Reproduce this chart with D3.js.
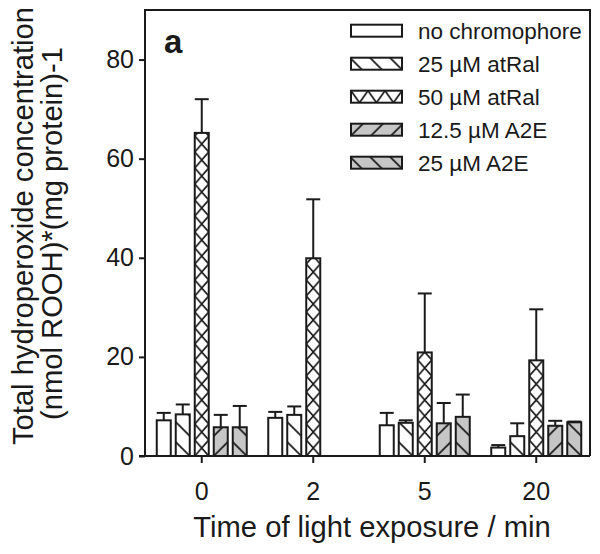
<!DOCTYPE html>
<html>
<head>
<meta charset="utf-8">
<script src="https://cdn.jsdelivr.net/npm/d3@7"></script>
<style>
  body { margin: 0; background: #fff; }
  svg { display: block; }
  text { font-family: "Liberation Sans", Arial, Helvetica, sans-serif; fill: #1a1a1a; }
</style>
</head>
<body>
<svg id="chart" width="600" height="554"></svg>
<script>
// ---- data ----
const categories = ["0", "2", "5", "20"];
const seriesNames = ["no chromophore", "25 \u00B5M atRal", "50 \u00B5M atRal", "12.5 \u00B5M A2E", "25 \u00B5M A2E"];
const noChromophore = [7.2, 7.7, 6.2, 1.7];
const noChromophoreErr = [1.5, 1.2, 2.5, 0.5];
const atRal25 = [8.4, 8.3, 6.7, 4.0];
const atRal25Err = [2.0, 1.7, 0.5, 2.6];
const atRal50 = [65.2, 39.9, 20.9, 19.3];
const atRal50Err = [6.8, 11.9, 11.9, 10.3];
const a2e125 = [5.8, null, 6.6, 6.1];
const a2e125Err = [2.5, null, 4.1, 1.0];
const a2e25 = [5.8, null, 7.9, 6.8];
const a2e25Err = [4.3, null, 4.5, 0.15];
const yTicks = [0, 20, 40, 60, 80];
const xTitle = "Time of light exposure / min";
const yTitle1 = "Total hydroperoxide concentration";
const yTitle2 = "(nmol ROOH)*(mg protein)-1";
const panelLabel = "a";

(function () {
const seriesValues = [noChromophore, atRal25, atRal50, a2e125, a2e25];
const seriesErrors = [noChromophoreErr, atRal25Err, atRal50Err, a2e125Err, a2e25Err];
const seriesStyle = [
  { fill: "#ffffff", hatch: "none" },
  { fill: "#ffffff", hatch: "back" },
  { fill: "#ffffff", hatch: "cross" },
  { fill: "#c6c6c6", hatch: "fwd" },
  { fill: "#c6c6c6", hatch: "back" }
];

const svg = d3.select("#chart");
const pLeft = 145, pRight = 590, pTop = 10, pBottom = 456;
const ink = "#1a1a1a";

const y = d3.scaleLinear().domain([0, 90]).range([pBottom, pTop]);
const x0 = d3.scaleBand().domain(categories).range([146, 592]).padding(0);
const half = x0.bandwidth() / 2;
const x1 = d3.scaleBand().domain(d3.range(seriesNames.length))
  .range([half - 45, half + 45]).paddingInner(0.263).paddingOuter(0);

const defs = svg.append("defs");
let pid = 0;
function makePattern(style, bx, bw, anchorY, crossH) {
  if (style.hatch === "none") return style.fill;
  const id = "pat" + (pid++);
  let w, h, d, px, py;
  if (style.hatch === "back") {
    w = h = 20; px = bx + bw; py = anchorY;
    d = "M0,0L20,20M-5,15L5,25M15,-5L25,5";
  } else if (style.hatch === "fwd") {
    w = h = 20; px = bx; py = anchorY;
    d = "M0,20L20,0M-5,5L5,-5M15,25L25,15";
  } else {
    w = bw; h = crossH || 16; px = bx; py = anchorY;
    d = `M0,0L${w},${h}M0,${h}L${w},0`;
  }
  const p = defs.append("pattern").attr("id", id)
    .attr("patternUnits", "userSpaceOnUse")
    .attr("x", px).attr("y", py).attr("width", w).attr("height", h);
  p.append("rect").attr("width", w).attr("height", h).attr("fill", style.fill);
  p.append("path").attr("d", d).attr("stroke", ink).attr("stroke-width", 1.7).attr("fill", "none");
  return `url(#${id})`;
}

const rows = [];
categories.forEach((c, gi) => {
  seriesNames.forEach((s, si) => {
    const v = seriesValues[si][gi];
    if (v == null) return;
    rows.push({ c, si, v, e: seriesErrors[si][gi] });
  });
});

const gBars = svg.append("g");
rows.forEach(r => {
  const bx = x0(r.c) + x1(r.si);
  const bw = x1.bandwidth();
  const fill = makePattern(seriesStyle[r.si], bx, bw, y(0));
  const cx = bx + bw / 2;
  gBars.append("line").attr("x1", cx).attr("x2", cx)
    .attr("y1", y(r.v)).attr("y2", y(r.v + r.e))
    .attr("stroke", ink).attr("stroke-width", 2);
  gBars.append("line").attr("x1", cx - 7).attr("x2", cx + 7)
    .attr("y1", y(r.v + r.e)).attr("y2", y(r.v + r.e))
    .attr("stroke", ink).attr("stroke-width", 2);
  gBars.append("rect").attr("x", bx).attr("y", y(r.v))
    .attr("width", bw).attr("height", y(0) - y(r.v))
    .attr("fill", fill).attr("stroke", ink).attr("stroke-width", 2);
});

const yAxis = d3.axisLeft(y).tickValues(yTicks).tickSize(6).tickPadding(5).tickFormat(d3.format("d"));
const gy = svg.append("g").attr("transform", `translate(${pLeft},0)`).call(yAxis);
gy.select(".domain").remove();
gy.selectAll(".tick line").attr("stroke", ink).attr("stroke-width", 2);
gy.selectAll(".tick text").attr("font-size", 25).style("fill", ink)
  .attr("font-family", "Liberation Sans, Arial, sans-serif");

const xAxis = d3.axisBottom(x0).tickSize(7).tickPadding(19).tickSizeOuter(0);
const gx = svg.append("g").attr("transform", `translate(0,${pBottom})`).call(xAxis);
gx.select(".domain").remove();
gx.selectAll(".tick line").attr("stroke", ink).attr("stroke-width", 2);
gx.selectAll(".tick text").attr("font-size", 25).style("fill", ink)
  .attr("font-family", "Liberation Sans, Arial, sans-serif");

svg.append("path")
  .attr("d", `M${pLeft},${pBottom}L${pLeft},${pTop}L${pRight},${pTop}L${pRight},${pBottom}M139,${pBottom}L${pRight},${pBottom}`)
  .attr("fill", "none").attr("stroke", ink).attr("stroke-width", 2);

svg.append("text").attr("x", 372).attr("y", 537).attr("text-anchor", "middle")
  .attr("font-size", 29.2).text(xTitle);
svg.append("text").attr("transform", "translate(33,226) rotate(-90)")
  .attr("text-anchor", "middle").attr("font-size", 29.2).text(yTitle1);
svg.append("text").attr("transform", "translate(62,233.5) rotate(-90)")
  .attr("text-anchor", "middle").attr("font-size", 29.2).text(yTitle2);
svg.append("text").attr("x", 164).attr("y", 53).attr("font-size", 33)
  .attr("font-weight", "bold").text(panelLabel);

const legRow = d3.scaleLinear().domain([0, 4]).range([30.7, 162.7]);
const gLeg = svg.append("g");
seriesNames.forEach((s, i) => {
  const cy = legRow(i);
  const sx = 351, sw = 51, sh = 12;
  const st = seriesStyle[i];
  const fill = st.hatch === "cross"
    ? makePattern(st, sx, 17, cy - sh / 2, 24)
    : makePattern(st, sx, sw, cy + sh / 2);
  gLeg.append("rect").attr("x", sx).attr("y", cy - sh / 2).attr("width", sw).attr("height", sh)
    .attr("fill", fill).attr("stroke", ink).attr("stroke-width", 2);
  gLeg.append("text").attr("x", 418).attr("y", cy).attr("dy", "0.36em")
    .attr("font-size", 22.5).text(s);
});
})();
</script>
</body>
</html>
